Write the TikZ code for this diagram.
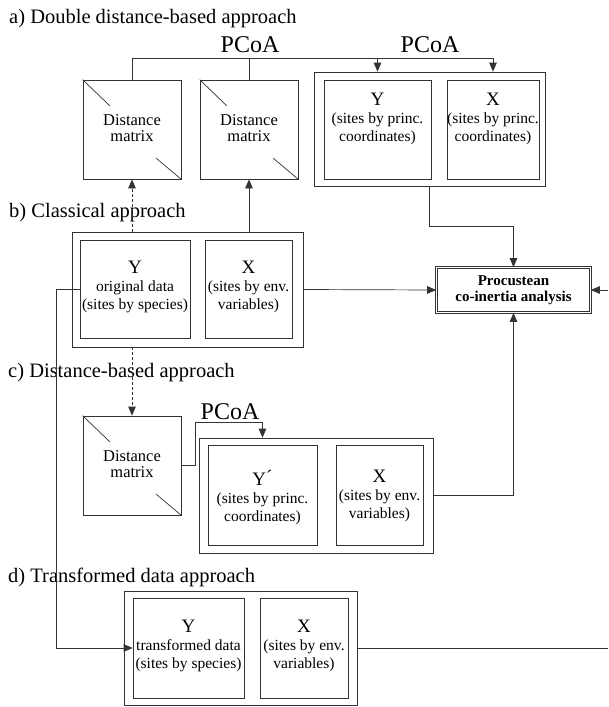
\documentclass[tikz,border=0pt]{standalone}
\usepackage{fontspec}
\setmainfont{Liberation Serif}
\usetikzlibrary{calc,arrows.meta}
\newcommand\bxt{\fontsize{15.5}{18}\selectfont}
\newcommand\bxY{\fontsize{19}{19}\selectfont}
\newcommand\dmt{\fontsize{16.5}{16}\selectfont}
\newcommand\ttl{\fontsize{20.5}{22}\selectfont}
\newcommand\pco{\fontsize{24}{26}\selectfont}
\begin{document}
\begin{tikzpicture}[x=1pt,y=-1pt,
  ln/.style={draw=black!80,line width=0.7pt},
  arr/.style={ln,-{Triangle[length=9pt,width=7.5pt]}},
  bx/.style 2 args={ln,inner sep=0pt,minimum width=#1pt,minimum height=#2pt},
  lbl/.style={font=\bxt,align=center,inner sep=0pt,anchor=north},
  dml/.style={font=\dmt,align=center,inner sep=0pt},
  ttlst/.style={font=\ttl,anchor=base west,inner sep=0pt},
  pcst/.style={font=\pco,inner sep=0pt}]
\fill[white] (0,0) rectangle (608,707);
\useasboundingbox (0,0) rectangle (608,707);

% titles
\node[ttlst] (ta) at (9,23) {a) Double distance-based approach};
\node[ttlst] (tb) at (9,217) {b) Classical approach};
\node[ttlst] (tc) at (8,377) {c) Distance-based approach};
\node[ttlst] (td) at (8,582) {d) Transformed data approach};

% PCoA labels
\node[pcst] (p1) at (250,45) {PCoA};
\node[pcst] (p2) at (430,45) {PCoA};
\node[pcst] (p3) at (230,412) {PCoA};

% a) boxes
\node[bx={98}{99}] (dmA1) at (132,129.5) {};
\node[bx={98}{99}] (dmA2) at (249,129.5) {};
\node[bx={231}{114}] (outA) at (429.5,129) {};
\node[bx={107}{99}] (yA) at (377.5,129.5) {};
\node[bx={92}{99}] (xA) at (493,129.5) {};

% b) boxes
\node[bx={231}{115}] (outB) at (187.5,289.5) {};
\node[bx={110}{98}] (yB) at (135,289) {};
\node[bx={87}{98}] (xB) at (248.5,289) {};
\node[ln,double,double distance=1.5pt,inner sep=0pt,minimum width=154pt,minimum height=45pt] (proc) at (513.5,290) {};

% c) boxes
\node[bx={98}{99}] (dmC) at (132,465.5) {};
\node[bx={234}{115}] (outC) at (316,495.5) {};
\node[bx={109}{100}] (yC) at (262.5,495) {};
\node[bx={87}{100}] (xC) at (379.5,495) {};

% d) boxes
\node[bx={233}{114}] (outD) at (240.5,648) {};
\node[bx={111}{100}] (yD) at (188.5,648) {};
\node[bx={88}{100}] (xD) at (304,648) {};

% diagonals of distance matrices
\foreach \d in {dmA1,dmA2,dmC}{
  \draw[ln] (\d.north west) -- ($(\d.north west)+(27,26)$);
  \draw[ln] (\d.south east) -- ($(\d.south east)+(-25,-21)$);
}

% texts
\node[dml] (dmA1t) at ($(dmA1)+(0,-1)$) {Distance\\matrix};
\node[dml] (dmA2t) at ($(dmA2)+(0,-1)$) {Distance\\matrix};
\node[dml] (dmCt) at ($(dmC)+(0,-1)$) {Distance\\matrix};
\node[lbl] (yAt) at (377.5,93) {{\bxY Y}\\(sites by princ.\\coordinates)};
\node[lbl] (xAt) at (493,93) {{\bxY X}\\(sites by princ.\\coordinates)};
\node[lbl] (yBt) at (135,261) {{\bxY Y}\\original data\\(sites by species)};
\node[lbl] (xBt) at (248.5,261) {{\bxY X}\\(sites by env.\\variables)};
\node[lbl] (yCt) at (262.5,470) {{\bxY Y\raisebox{2pt}{´}}\\(sites by princ.\\coordinates)};
\node[lbl] (xCt) at (379.5,470) {{\bxY X}\\(sites by env.\\variables)};
\node[lbl] (yDt) at (188.5,620) {{\bxY Y}\\transformed data\\(sites by species)};
\node[lbl] (xDt) at (304,620) {{\bxY X}\\(sites by env.\\variables)};
\node[font=\bfseries\fontsize{15}{16}\selectfont,align=center,inner sep=0pt] (proct) at (proc) {Procustean\\co-inertia analysis};

% connectors
\coordinate (tl) at (132,58);
\coordinate (tr) at (493,58);
\draw[ln] (dmA1.north) -- (tl) -- (tr);
\draw[ln] (dmA2.north) -- (dmA2 |- tl);
\draw[arr] (yA |- tl) -- (yA |- outA.north);
\draw[arr] (tr) -- (xA |- outA.north);

\draw[arr,densely dashed] (dmA1 |- outB.north) -- (dmA1.south);
\draw[arr] (dmA2 |- outB.north) -- (dmA2.south);

\draw[arr] (outA.south) |- ($(proc.north)+(0,-41)$) -- (proc.north);
\draw[arr] (outB.east) -- (proc.west);
\coordinate (re) at (608,290);
\draw[arr] (re) -- (proc.east);
\draw[arr] (outC.east) -| (proc.south);

\draw[arr,densely dashed] (dmC |- outB.south) -- (dmC.north);
\draw[arr] (dmC.east) -- ++(14,0) |- ($(yC |- outC.north)+(0,-15)$) -- (yC |- outC.north);

\draw[arr] (yB.west) -- ++(-23,0) |- (yD.west);
\coordinate (re2) at (608,648);
\draw[ln] (outD.east) -- (re2);
\end{tikzpicture}
\end{document}
